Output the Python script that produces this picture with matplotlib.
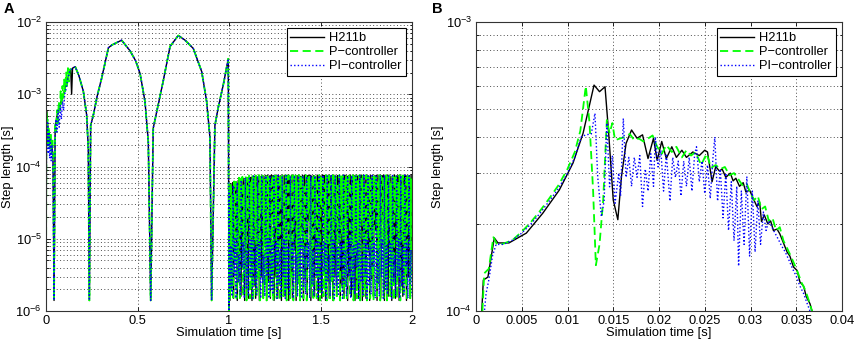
import numpy as np
import matplotlib
matplotlib.use("Agg")
import matplotlib.pyplot as plt
from matplotlib.ticker import LogLocator, FuncFormatter

plt.rcParams['font.family'] = ['Liberation Sans', 'DejaVu Sans']
plt.rcParams['mathtext.fontset'] = 'custom'
plt.rcParams['mathtext.rm'] = 'Liberation Sans'

labels = ["H211b", "P\u2212controller", "PI\u2212controller"]

# ---- panel A: whole simulation, values in 1e-3 s ----
# H211b start
a_t_h_early = [0.0, 0.003, 0.010, 0.020, 0.030, 0.038, 0.044, 0.050, 0.060, 0.080,
               0.100, 0.120, 0.135, 0.140, 0.145]
a_h_early = [0.001, 0.6, 0.35, 0.25, 0.2, 0.15, 0.0014, 0.35, 0.5, 0.75,
             1.1, 1.7, 2.2, 1.0, 2.3]
# P-controller start
a_t_p_early = [0.0, 0.002, 0.005, 0.008, 0.012, 0.015, 0.020, 0.025, 0.030, 0.035,
               0.040, 0.044, 0.050, 0.055, 0.060, 0.065, 0.070, 0.075, 0.080, 0.085,
               0.090, 0.095, 0.100, 0.105, 0.110, 0.115, 0.120, 0.125, 0.130, 0.145]
a_p_early = [0.001, 0.6, 0.25, 0.45, 0.2, 0.35, 0.18, 0.3, 0.15, 0.25,
             0.12, 0.0014, 0.4, 0.3, 0.6, 0.4, 0.8, 0.55, 1.1, 0.7,
             1.3, 0.9, 1.6, 1.1, 2.0, 1.3, 2.3, 1.5, 2.2, 2.3]
# PI-controller start
a_t_pi_early = [0.0, 0.003, 0.006, 0.009, 0.012, 0.016, 0.020, 0.024, 0.028, 0.033,
                0.038, 0.044, 0.050, 0.055, 0.060, 0.066, 0.072, 0.078, 0.084, 0.090,
                0.096, 0.102, 0.110, 0.120, 0.130, 0.145]
a_pi_early = [0.001, 0.45, 0.2, 0.4, 0.15, 0.3, 0.13, 0.25, 0.12, 0.2,
              0.1, 0.0014, 0.3, 0.45, 0.3, 0.6, 0.35, 0.7, 0.45, 0.8,
              0.6, 1.0, 1.2, 1.7, 2.1, 2.3]
# common part 0.16 .. 1.0 (all three nearly identical)
a_t_main = [0.160, 0.180, 0.204, 0.222, 0.231, 0.237, 0.244, 0.259, 0.280, 0.304,
            0.341, 0.360, 0.413, 0.459, 0.490, 0.514, 0.541, 0.559, 0.572, 0.586,
            0.605, 0.640, 0.678, 0.723, 0.760, 0.805, 0.851, 0.878, 0.896, 0.905,
            0.923, 0.941, 0.970, 0.996, 1.000]
a_main = [2.4, 1.8, 1.1, 0.52, 0.18, 0.0014, 0.37, 0.52, 0.95, 1.66,
          4.4, 4.8, 5.6, 4.0, 2.9, 1.94, 0.79, 0.22, 0.0014, 0.34,
          0.57, 1.5, 4.6, 6.5, 5.6, 4.3, 2.05, 0.79, 0.25, 0.0014,
          0.37, 0.65, 1.4, 3.1, 0.001]

# oscillating band for t in 1..2 (values in 1e-6 s)
h_band = [55, 1.4, 58, 3, 60, 1.5, 62, 12, 61, 1.4, 64, 2.5, 66, 1.6, 65, 8, 68, 1.4, 67, 3,
          70, 1.5, 69, 15, 71, 1.4, 72, 2.2, 73, 1.5, 72, 6, 74, 1.4, 73, 3, 75, 1.6, 74, 10,
          75, 1.4, 76, 2.5, 74, 1.5, 76, 20, 75, 1.4, 73, 3, 76, 1.5, 75, 9, 74, 1.4, 76, 2.2,
          75, 1.6, 73, 14, 76, 1.4, 74, 3, 75, 1.5, 76, 7, 74, 1.4, 75, 2.5, 76, 1.6, 73, 11,
          75, 1.4, 76, 2.8, 74, 1.5, 75, 18, 76, 1.4, 74, 2.4, 75, 1.6, 73, 8, 76, 1.4, 75, 3,
          74, 1.5, 76, 25, 75, 1.4, 73, 2.6, 76, 1.5, 74, 6, 75, 1.4, 76, 3, 74, 1.6, 75, 12,
          76, 1.4, 73, 2.2, 75, 1.5, 76, 16, 74, 1.4, 75, 3, 76, 1.6, 73, 9, 75, 1.4, 76, 2.5,
          74, 1.5, 75, 22, 76, 1.4, 73, 3, 75, 1.5, 76, 7, 74, 1.4, 75, 2.8, 76, 1.6, 74, 13,
          75, 1.4, 76, 2.4, 73, 1.5, 75, 19, 76, 1.4, 74, 3, 75, 1.6, 76, 8, 73, 1.4, 75, 2.6,
          76, 1.5, 74, 10, 75, 1.4, 76, 2.2, 73, 1.6, 75, 15, 76, 1.4, 74, 3, 75, 1.5, 76, 6]
p_band = [50, 1.5, 58, 2, 40, 1.4, 62, 5, 66, 1.5, 45, 2.5, 70, 1.4, 68, 12, 72, 1.6, 55, 3,
          74, 1.4, 70, 20, 75, 1.5, 60, 2, 76, 1.4, 72, 9, 75, 1.6, 50, 3, 76, 1.4, 74, 25,
          75, 1.5, 65, 2.2, 76, 1.4, 73, 6, 75, 1.6, 58, 3, 76, 1.4, 74, 15, 75, 1.5, 62, 2.5,
          76, 1.4, 72, 30, 75, 1.6, 55, 2, 76, 1.4, 74, 10, 75, 1.5, 68, 3, 76, 1.4, 73, 18,
          75, 1.6, 60, 2.4, 76, 1.4, 74, 7, 75, 1.5, 52, 3, 76, 1.4, 72, 22, 75, 1.6, 64, 2.2,
          76, 1.4, 74, 12, 75, 1.5, 66, 3, 76, 1.4, 70, 28, 75, 1.6, 57, 2, 76, 1.4, 73, 8,
          75, 1.5, 61, 2.6, 76, 1.4, 74, 16, 75, 1.6, 54, 3, 76, 1.4, 72, 11, 75, 1.5, 67, 2.2,
          76, 1.4, 73, 24, 75, 1.6, 59, 3, 76, 1.4, 74, 6, 75, 1.5, 63, 2.4, 76, 1.4, 72, 19,
          75, 1.6, 56, 2, 76, 1.4, 74, 13, 75, 1.5, 69, 3, 76, 1.4, 73, 26, 75, 1.6, 60, 2.5,
          76, 1.4, 74, 9, 75, 1.5, 65, 3, 76, 1.4, 72, 17, 75, 1.6, 58, 2.2, 76, 1.4, 74, 21,
          75, 1.5, 62, 3, 76, 1.4, 73, 10, 75, 1.6, 55, 2.4, 76, 1.4, 74, 14, 75, 1.5, 67, 3]
pi_band = [45, 2, 8, 1.6, 55, 3, 10, 1.5, 60, 2.5, 6, 1.7, 65, 4, 9, 1.5, 70, 2, 7, 1.6,
           72, 3, 10, 1.5, 74, 2.2, 8, 1.7, 73, 4, 9, 1.5, 75, 2.5, 6, 1.6, 74, 3, 10, 1.5,
           75, 2, 8, 1.7, 73, 4, 9, 1.5, 75, 2.4, 7, 1.6, 74, 3, 10, 1.5, 75, 2, 8, 1.7,
           73, 4, 9, 1.5, 75, 2.5, 6, 1.6, 74, 3, 10, 1.5, 75, 2.2, 8, 1.7, 73, 4, 9, 1.5,
           75, 2.4, 7, 1.6, 74, 3, 10, 1.5, 75, 2, 8, 1.7, 76, 3.5, 9, 1.5, 74, 2.6, 6, 1.6,
           75, 3, 10, 1.5, 73, 2.2, 8, 1.7, 75, 4, 9, 1.5, 76, 2.4, 7, 1.6, 74, 3, 10, 1.5,
           75, 2, 8, 1.7, 73, 4, 9, 1.5, 75, 2.5, 6, 1.6, 76, 3, 10, 1.5, 74, 2.2, 8, 1.7,
           75, 4, 9, 1.5, 73, 2.4, 7, 1.6, 75, 3, 10, 1.5, 76, 2, 8, 1.7, 74, 4, 9, 1.5,
           75, 2.5, 6, 1.6, 73, 3, 10, 1.5, 75, 2.2, 8, 1.7, 76, 4, 9, 1.5, 74, 2.4, 7, 1.6]

# ---- panel B: zoom on start, values in 1e-4 s ----
b_t_h = [0.0006, 0.0008, 0.0013, 0.0020, 0.0024, 0.0036, 0.0055, 0.0073, 0.0091, 0.0106,
         0.0117, 0.0129, 0.0135, 0.0141, 0.0145, 0.0150, 0.0155, 0.0159, 0.0164, 0.0170,
         0.0176, 0.0182, 0.0188, 0.0194, 0.0198, 0.0203, 0.0208, 0.0214, 0.0219, 0.0225,
         0.0230, 0.0237, 0.0244, 0.0250, 0.0253, 0.0258, 0.0262, 0.0266, 0.0269, 0.0273,
         0.0278, 0.0281, 0.0284, 0.0288, 0.0292, 0.0295, 0.0299, 0.0303, 0.0307, 0.0310,
         0.0312, 0.0315, 0.0319, 0.0322, 0.0325, 0.0329, 0.0332, 0.0336, 0.0340, 0.0343,
         0.0347, 0.0351, 0.0354, 0.0358, 0.0361, 0.0365, 0.0368]
b_h = [0.95, 1.28, 1.31, 1.79, 1.72, 1.72, 1.86, 2.18, 2.62, 3.25,
       4.12, 6.05, 5.74, 5.97, 4.12, 2.42, 2.07, 2.92, 3.80, 4.23,
       3.96, 4.07, 3.37, 3.96, 3.32, 3.86, 3.37, 3.70, 3.40, 3.60,
       3.40, 3.55, 3.45, 3.60, 3.55, 2.80, 3.16, 3.05, 3.10, 2.90,
       3.00, 2.82, 2.88, 2.70, 2.78, 2.58, 2.62, 2.45, 2.30, 2.38,
       2.04, 2.15, 2.00, 2.05, 1.90, 1.92, 1.85, 1.72, 1.60, 1.55,
       1.42, 1.38, 1.26, 1.22, 1.12, 1.06, 0.98]
b_t_p = [0.0007, 0.0009, 0.0014, 0.0019, 0.0023, 0.0030, 0.0040, 0.0050, 0.0060, 0.0070,
         0.0080, 0.0090, 0.0100, 0.0108, 0.0114, 0.0120, 0.0124, 0.0128, 0.0131, 0.0135,
         0.0139, 0.0143, 0.0146, 0.0149, 0.0152, 0.0157, 0.0163, 0.0168, 0.0173, 0.0178,
         0.0183, 0.0188, 0.0193, 0.0198, 0.0203, 0.0208, 0.0214, 0.0219, 0.0225, 0.0230,
         0.0235, 0.0240, 0.0246, 0.0252, 0.0257, 0.0262, 0.0267, 0.0272, 0.0277, 0.0282,
         0.0287, 0.0292, 0.0296, 0.0300, 0.0304, 0.0308, 0.0312, 0.0316, 0.0320, 0.0324,
         0.0328, 0.0332, 0.0336, 0.0340, 0.0344, 0.0348, 0.0352, 0.0356, 0.0360, 0.0364,
         0.0368]
b_p = [1.00, 1.35, 1.40, 1.80, 1.70, 1.71, 1.76, 1.88, 2.03, 2.22,
       2.45, 2.72, 3.10, 3.55, 4.20, 6.00, 4.50, 2.60, 1.44, 1.70,
       2.42, 4.58, 4.12, 4.47, 3.90, 3.95, 4.00, 4.10, 3.90, 3.95,
       3.86, 3.95, 4.05, 3.70, 3.50, 3.75, 3.55, 3.70, 3.40, 3.60,
       3.45, 3.55, 3.20, 3.50, 3.13, 3.20, 3.10, 3.15, 2.95, 3.00,
       2.85, 2.70, 2.75, 2.55, 2.42, 2.50, 2.25, 2.30, 2.05, 2.10,
       1.90, 1.95, 1.75, 1.65, 1.55, 1.45, 1.35, 1.25, 1.18, 1.08,
       0.98]
b_t_pi = [0.0009, 0.0011, 0.0014, 0.0018, 0.0022, 0.0030, 0.0040, 0.0050, 0.0060, 0.0070,
          0.0080, 0.0090, 0.0100, 0.0108, 0.0115, 0.0120, 0.0126, 0.0130, 0.0133, 0.0137,
          0.0140, 0.0143, 0.0146, 0.0149, 0.0152, 0.0156, 0.0158, 0.0161, 0.0164, 0.0167,
          0.0170, 0.0173, 0.0176, 0.0179, 0.0182, 0.0185, 0.0188, 0.0191, 0.0194, 0.0196,
          0.0199, 0.0202, 0.0205, 0.0208, 0.0212, 0.0215, 0.0218, 0.0221, 0.0224, 0.0227,
          0.0230, 0.0233, 0.0236, 0.0239, 0.0241, 0.0244, 0.0247, 0.0250, 0.0253, 0.0256,
          0.0259, 0.0261, 0.0264, 0.0267, 0.0270, 0.0273, 0.0276, 0.0279, 0.0282, 0.0285,
          0.0287, 0.0290, 0.0293, 0.0296, 0.0299, 0.0302, 0.0305, 0.0308, 0.0311, 0.0314,
          0.0317, 0.0320, 0.0326, 0.0330, 0.0334, 0.0338, 0.0342, 0.0346, 0.0350, 0.0354,
          0.0358, 0.0362, 0.0366]
b_pi = [0.98, 1.15, 1.28, 1.55, 1.70, 1.70, 1.76, 1.86, 2.00, 2.18,
        2.40, 2.65, 3.00, 3.40, 4.00, 4.07, 4.10, 4.83, 2.92, 2.12,
        2.40, 4.47, 2.69, 3.45, 2.36, 3.00, 2.50, 4.64, 2.90, 3.40,
        2.70, 3.40, 2.90, 3.45, 2.30, 3.10, 2.60, 3.50, 2.70, 4.00,
        3.15, 3.60, 2.60, 3.50, 2.40, 3.40, 2.90, 3.30, 2.50, 3.30,
        2.70, 3.40, 2.60, 3.50, 3.70, 2.80, 3.30, 2.55, 3.20, 2.45,
        3.40, 4.00, 2.40, 3.10, 2.10, 3.00, 1.90, 2.80, 1.75, 2.70,
        1.43, 2.60, 1.70, 2.92, 1.55, 2.60, 1.60, 2.40, 1.70, 2.20,
        1.90, 2.05, 1.88, 1.78, 1.68, 1.60, 1.50, 1.40, 1.32, 1.22,
        1.15, 1.06, 0.98]

# assemble panel A series
def series(t_early, s_early, band):
    t = np.concatenate([t_early, a_t_main, np.linspace(1.0, 2.0, len(band))])
    s = np.concatenate([np.array(s_early) * 1e-3, np.array(a_main) * 1e-3,
                        np.array(band) * 1e-6])
    return t, s

ta_h, sa_h = series(a_t_h_early, a_h_early, h_band)
ta_p, sa_p = series(a_t_p_early, a_p_early, p_band)
ta_pi, sa_pi = series(a_t_pi_early, a_pi_early, pi_band)

fig = plt.figure(figsize=(8.56, 3.45), dpi=100)
axA = fig.add_axes([46/856, 1-311/345, 366/856, 289/345])
axB = fig.add_axes([476/856, 1-311/345, 366/856, 289/345])

sty_h = dict(color='black', lw=1.0)
sty_p = dict(color=(0, 1, 0), lw=1.3, dashes=(4.5, 2.5))
sty_pi = dict(color=(0, 0, 1), lw=1.0, linestyle=(0, (1, 1.6)))

axA.semilogy(ta_h, sa_h, label=labels[0], **sty_h)
axA.semilogy(ta_p, sa_p, label=labels[1], **sty_p)
axA.semilogy(ta_pi, sa_pi, label=labels[2], **sty_pi)

axB.semilogy(b_t_h, np.array(b_h) * 1e-4, label=labels[0], **sty_h)
axB.semilogy(b_t_p, np.array(b_p) * 1e-4, label=labels[1], **sty_p)
axB.semilogy(b_t_pi, np.array(b_pi) * 1e-4, label=labels[2], **sty_pi)

axA.set_xlim(0, 2)
axA.set_ylim(1e-6, 1e-2)
axA.set_xticks([0, 0.5, 1, 1.5, 2])
axA.xaxis.set_major_formatter(FuncFormatter(lambda v, p: '%g' % v))

axB.set_xlim(0, 0.04)
axB.set_ylim(1e-4, 1e-3)
axB.set_xticks(np.arange(0, 0.0401, 0.005))
axB.xaxis.set_major_formatter(FuncFormatter(lambda v, p: '%g' % round(v, 4)))

fs = 9.3
for ax in (axA, axB):
    ax.yaxis.set_major_locator(LogLocator(base=10, numticks=10))
    ax.yaxis.set_minor_locator(LogLocator(base=10, subs=np.arange(2, 10), numticks=20))
    ax.yaxis.set_minor_formatter(plt.NullFormatter())
    ax.grid(True, which='major', axis='both', linestyle=(0, (1, 2.5)), color='0.3', lw=0.7)
    ax.grid(True, which='minor', axis='y', linestyle=(0, (1, 2.5)), color='0.3', lw=0.7)
    ax.tick_params(which='both', direction='in', top=True, right=True, labelsize=fs,
                   length=3, width=0.6, pad=3)
    ax.tick_params(which='minor', length=1.8)
    for sp in ax.spines.values():
        sp.set_linewidth(0.8)
        sp.set_color('0.2')
    ax.set_xlabel('Simulation time [s]', fontsize=fs, labelpad=0)
    ax.set_ylabel('Step length [s]', fontsize=fs, labelpad=1)
    leg = ax.legend(loc='upper right', fancybox=False, framealpha=1, edgecolor='black',
                    fontsize=fs, handlelength=2.6, borderpad=0.3, labelspacing=0.15,
                    handletextpad=0.4, borderaxespad=0.5)
    leg.get_frame().set_linewidth(0.8)

fig.text(4/856, 1-2/345, 'A', fontsize=10.5, fontweight='bold', va='top', ha='left')
fig.text(432/856, 1-2/345, 'B', fontsize=10.5, fontweight='bold', va='top', ha='left')

fig.savefig('out.png', dpi=100)
